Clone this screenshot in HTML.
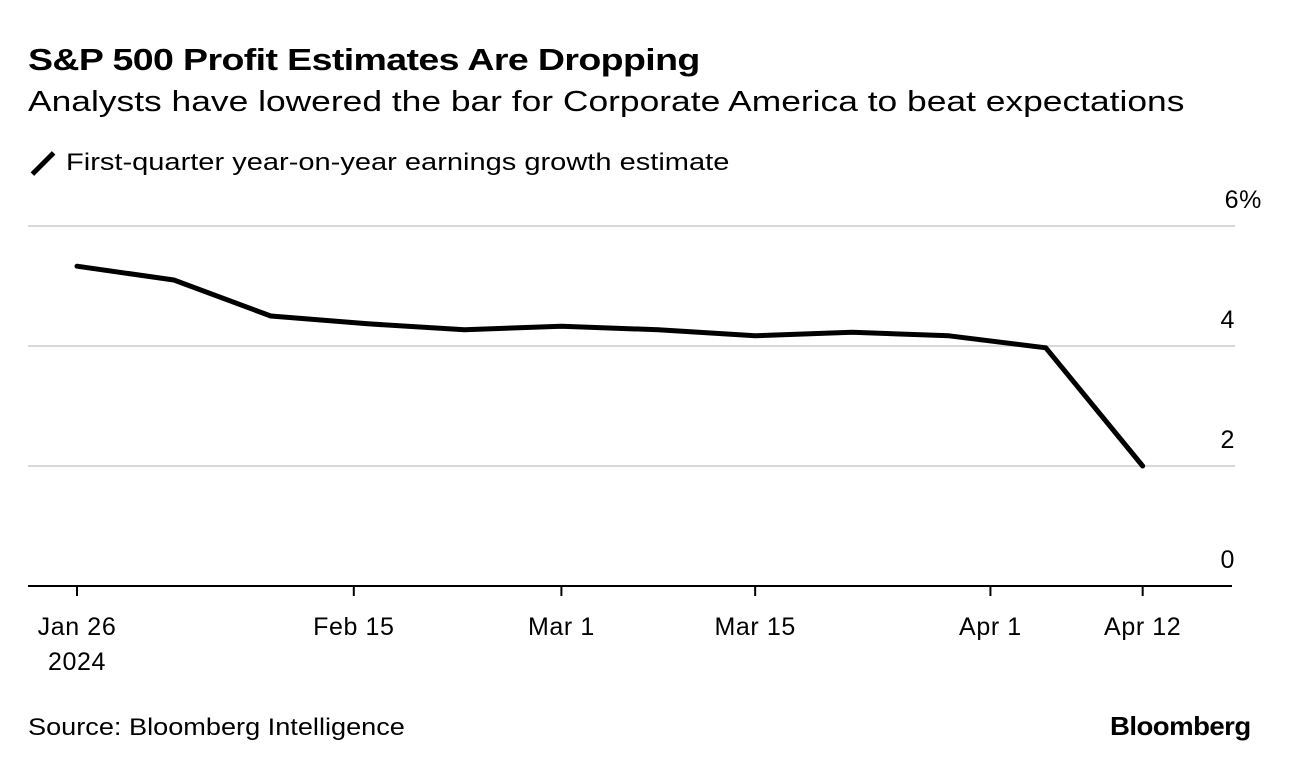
<!DOCTYPE html>
<html><head><meta charset="utf-8"><style>
body{margin:0;background:#fff;font-family:"Liberation Sans",sans-serif;}
#w{position:relative;width:1289px;height:770px;overflow:hidden;}
.t{position:absolute;white-space:nowrap;color:#000;transform-origin:0 0;}
</style></head><body>
<div id="w">
<div class="t" style="left:28px;top:42px;font-size:31px;font-weight:bold;letter-spacing:-0.5px;transform:scaleX(1.21)">S&amp;P 500 Profit Estimates Are Dropping</div>
<div class="t" style="left:28px;top:86px;font-size:29px;transform:scaleX(1.22)">Analysts have lowered the bar for Corporate America to beat expectations</div>
<span style="position:absolute;left:28px;top:161px;width:30px;height:5px;background:#000;transform:rotate(-45deg)"></span>
<div class="t" style="left:66px;top:149px;font-size:24px;transform:scaleX(1.21)">First-quarter year-on-year earnings growth estimate</div>
<svg id="c" width="1289" height="770" style="position:absolute;left:0;top:0"></svg>
<div class="t" style="left:28px;top:714px;font-size:24px;transform:scaleX(1.13)">Source: Bloomberg Intelligence</div>
<div class="t" style="left:1110px;top:711px;font-size:26px;font-weight:bold;letter-spacing:-0.5px;transform:scaleX(1.06)">Bloomberg</div>
</div>
<script>
const dayOffsets=[0,7,14,21,28,35,42,49,56,63,70,77];
const values=[5.33,5.1,4.5,4.37,4.27,4.33,4.27,4.17,4.23,4.17,3.97,2.0];
const yTicks=[0,2,4,6];
const yTickLabels=["0","2","4","6%"];
const xTickDays=[0,20,35,49,66,77];
const xTickLabels=["Jan 26","Feb 15","Mar 1","Mar 15","Apr 1","Apr 12"];
const NS="http://www.w3.org/2000/svg";
const svg=document.getElementById('c');
const x=d=>77+d*13.84;
const y=v=>586-v*60;
function mk(tag,attrs){const e=document.createElementNS(NS,tag);for(const k in attrs)e.setAttribute(k,attrs[k]);svg.appendChild(e);return e;}
const F={'font-size':25,'font-family':'Liberation Sans, sans-serif','letter-spacing':'0.6'};
yTicks.forEach((v,i)=>{
  if(v>0){const g=mk('line',{x1:28,x2:1235,y1:y(v),y2:y(v),stroke:'#d9d9d9','stroke-width':2});
  
  }
  const t=mk('text',Object.assign({x:1262,y:y(v)-18,'text-anchor':'end'},F));
  if(v!==6)t.setAttribute('x',1235);
  t.textContent=yTickLabels[i];
  
  
});
const ax=mk('line',{x1:28,x2:1232,y1:586,y2:586,stroke:'#000','stroke-width':2});


xTickDays.forEach((d,i)=>{
  const tk=mk('line',{x1:x(d),x2:x(d),y1:586,y2:596,stroke:'#000','stroke-width':2});
  
  
  const t=mk('text',Object.assign({x:x(d),y:635,'text-anchor':'middle'},F));
  t.textContent=xTickLabels[i];
  
  
});
const yr=mk('text',Object.assign({x:x(0),y:670,'text-anchor':'middle'},F));
yr.textContent="2024";


const p=mk('polyline',{points:dayOffsets.map((d,i)=>x(d)+','+y(values[i])).join(' '),fill:'none',stroke:'#000','stroke-width':5,'stroke-linejoin':'round','stroke-linecap':'round'});


</script>
</body></html>
